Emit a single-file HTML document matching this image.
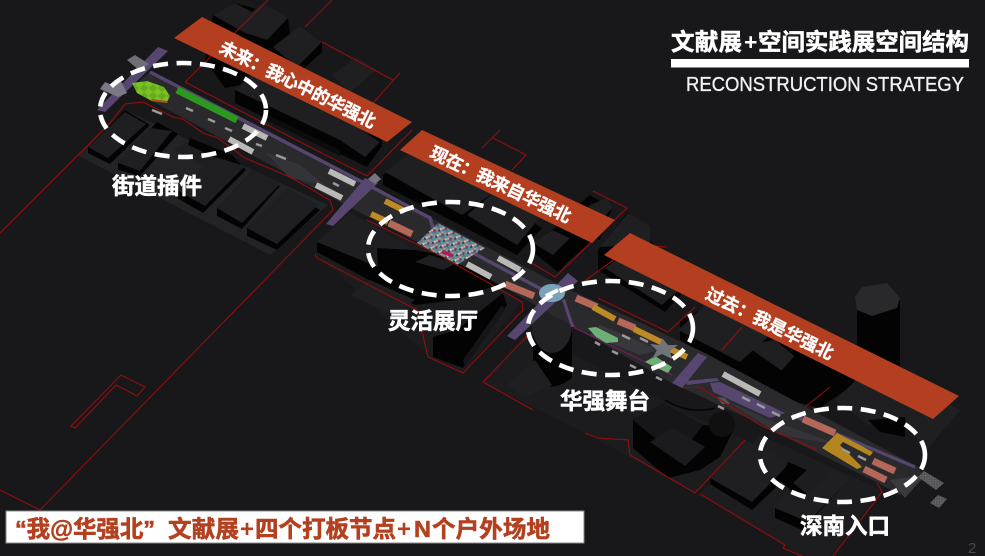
<!DOCTYPE html>
<html lang="zh">
<head>
<meta charset="utf-8">
<style>
html,body{margin:0;padding:0;background:#18181a;width:985px;height:556px;overflow:hidden}
svg{display:block}
.cjk{font-family:"Liberation Sans","Noto Sans CJK SC",sans-serif;font-weight:700}
.t{fill:#1f1f21}
.s{fill:#030303}
.k{fill:#0c0c0d}
.g{fill:#2a2a2d}
.r{fill:none;stroke:#940d0d;stroke-width:1.1}
.v{fill:#57466f}
.o{stroke:#bd8a24;stroke-width:6;fill:none}
.m{stroke:#b5685a;stroke-width:7;fill:none}
.w{stroke:#b9b9b7;stroke-width:6;fill:none}
.x{stroke:#9a9a9a;stroke-width:2.5;fill:none}
.n{fill:#6db075}
.d{fill:none;stroke:#fff;stroke-width:4.6;stroke-dasharray:15 8.5}
.l{fill:#fff;stroke:#fff;stroke-width:.6;font-size:22.5px;text-anchor:middle}
.b{fill:#fff;stroke:#fff;stroke-width:.35;font-size:17.5px;text-anchor:middle}
.h{fill:#fff;stroke:#fff;stroke-width:.5;font-size:23.5px}
.f{fill:#b3401f;stroke:#b3401f;stroke-width:.6;font-size:23.5px}
</style>
</head>
<body>
<svg width="985" height="556" viewBox="0 0 985 556" xmlns="http://www.w3.org/2000/svg">
<defs>
<pattern id="mix" width="9" height="7" patternUnits="userSpaceOnUse" patternTransform="rotate(27)">
<rect width="9" height="7" fill="#7d7f88"/>
<rect x="0" y="0" width="2" height="2" fill="#3f9aa8"/>
<rect x="2.500" y="1" width="2" height="2" fill="#c9a6a0"/>
<rect x="5" y="0" width="2" height="3" fill="#7a3a58"/>
<rect x="7" y="2" width="2" height="2" fill="#2f8fa0"/>
<rect x="1" y="3" width="2" height="2" fill="#c8c6c2"/>
<rect x="3.500" y="3" width="2" height="2" fill="#3d7f8e"/>
<rect x="0" y="5" width="2" height="2" fill="#54303a"/>
<rect x="4" y="5" width="2" height="2" fill="#b0a098"/>
<rect x="7" y="5" width="2" height="2" fill="#4eb1b5"/>
</pattern>
<pattern id="hatch" width="2.5" height="2.5" patternUnits="userSpaceOnUse">
<rect width="2.5" height="2.5" fill="#555"/>
<rect width="1.2" height="1.2" fill="#6a6a6a"/>
</pattern>
<pattern id="hex" width="9" height="8" patternUnits="userSpaceOnUse">
<rect width="9" height="8" fill="#66ad1d"/>
<path d="M0 4 L4.500 0 L9 4 L4.500 8Z" fill="#7cc226"/>
</pattern>
</defs>
<rect width="985" height="556" fill="#18181a"/>

<!-- plates -->
<polygon points="77,155 125,110 328,205 270,255" fill="#232325"/>
<polygon points="316,254 367,218 522,302 463,372 428,356" fill="#1c1c1e"/>
<polygon points="483,382 530,333 700,420 745,440 695,493 585,433" fill="#1c1c1e"/>
<polygon points="700,494 760,435 882,490 830,556 802,556" fill="#1d1d1f"/>

<!-- upper-left buildings -->
<polygon class="s" points="205,60 213,15 235,3 288,18 290,35 240,85 225,88"/>
<polygon class="t" points="213,15 235,3 252,12 263,3 288,18 267,40 245,33"/>
<polygon class="s" points="273,47 300,26 322,42 322,52 297,75 273,60"/>
<polygon class="t" points="273,47 300,26 322,42 297,67"/>
<polygon class="t" points="332,75 357,57 377,70 350,92"/>
<polygon class="s" points="235,90 235,103 367,167 382,146 382,130 345,140 240,88"/>
<polygon class="t" points="235,90 268,62 385,122 340,140"/>
<polygon class="k" points="262,112 340,150 340,156 262,118"/>
<polygon class="s" points="340,140 340,150 365,165 382,146 380,142"/>
<polygon class="t" points="340,140 357,128 380,142 365,157"/>

<!-- lower-left buildings -->
<polygon class="s" points="88,147 88,153 110,164 150,125 125,110"/>
<polygon class="t" points="88,147 125,112 146,124 108,158"/>
<polygon class="s" points="118,163 118,170 140,176 178,134 157,122"/>
<polygon class="t" points="118,163 150,128 172,131 140,171"/>
<polygon class="t" points="190,140 205,150 225,162 212,172 175,150"/>
<polygon class="s" points="177,190 177,198 203,213 246,170 232,155 190,138 188,145 225,162"/>
<polygon class="t" points="177,190 215,157 245,166 205,206"/>
<polygon class="s" points="217,208 217,216 242,229 280,186 253,170"/>
<polygon class="t" points="217,208 253,170 280,184 242,223"/>
<polygon class="s" points="247,228 247,236 277,250 320,210 287,190"/>
<polygon class="t" points="247,228 287,188 318,205 277,244"/>

<!-- central lower buildings -->
<polygon class="s" points="317,242 317,252 415,305 457,300 510,280 457,258 415,250 377,248"/>
<polygon class="t" points="317,242 350,212 415,250 377,248 380,268"/>
<polygon class="s" points="377,248 415,262 415,289 378,272"/>
<polygon class="t" points="415,262 430,255 457,263 443,270"/>
<polygon class="s" points="415,262 443,270 457,263 457,295 415,289"/>
<polygon class="t" points="350,295 370,280 415,300 395,315"/>
<polygon class="s" points="433,337 433,357 463,368 507,305 503,293 457,330"/>
<polygon fill="#151517" points="463,360 502,305 505,310 465,367"/>

<!-- central upper buildings -->
<polygon class="s" points="383,175 383,185 462,226 517,255 542,228 420,145"/>
<polygon class="t" points="385,172 420,145 500,188 462,215"/>
<polygon class="t" points="467,215 497,190 542,215 517,245"/>
<polygon class="s" points="533,243 533,252 558,272 568,262 592,240 563,222"/>
<polygon class="t" points="533,243 552,230 570,238 553,255"/>
<polygon class="s" points="560,220 590,195 612,208 600,240 578,235"/>
<polygon class="t" points="590,205 607,198 612,208 600,222 583,215"/>
<polygon class="s" points="598,250 598,270 665,312 690,285 650,240 628,212"/>
<polygon class="t" points="600,247 628,213 650,226 650,245"/>
<polygon class="t" points="605,268 630,252 688,282 662,305"/>

<!-- right side buildings -->
<polygon class="s" points="680,320 680,340 770,395 820,408 860,380 800,350 720,300"/>
<polygon class="t" points="678,330 705,305 770,335 740,362"/>
<polygon class="t" points="745,345 775,340 805,365 785,373"/>
<polygon class="s" points="782,370 782,385 825,393 840,370 800,350"/>
<polygon class="s" points="857,305 857,372 900,390 900,300"/>
<polygon fill="#29292b" points="855,297 862,287 887,283 900,298 897,308 872,316 857,310"/>
<polygon class="t" points="835,400 875,362 960,410 925,452 905,420 868,425"/>
<polygon class="s" points="868,420 905,417 905,437 880,432"/>

<!-- lower right buildings -->
<polygon class="s" points="633,420 633,448 668,478 700,470 720,457 735,427 703,425 663,403"/>
<polygon fill="#161618" points="633,420 663,403 703,425 690,442 655,438"/>
<polygon fill="#1b1b1d" points="650,442 672,428 705,447 685,466"/>
<circle cx="722" cy="424" r="13" fill="#101011"/>
<path d="M665 400 Q690 415 715 408" fill="none" stroke="#040404" stroke-width="1.500"/>
<polygon class="t" points="710,478 745,440 790,462 752,505"/>
<polygon class="s" points="710,478 710,484 752,510 790,474 785,468 752,502"/>
<polygon class="t" points="775,508 795,488 808,495 830,470 850,478 808,522"/>
<polygon class="s" points="775,508 775,518 802,530 845,484 808,522"/>
<polygon class="s" points="788,462 807,470 793,483 806,493 800,498 780,480"/>

<!-- cylinder -->
<path d="M533 325 V378 Q550 395 572 378 V325Z" fill="#030303"/>
<ellipse cx="552" cy="325" rx="20" ry="28" fill="#222224"/>
<polygon class="t" points="507,385 535,360 552,385 525,397"/>

<!-- road -->
<polygon class="g" points="135,85 150,72 372,187 560,285 705,353 918,467 925,478 900,495 878,483 758,423 672,383 500,285 330,197 150,100"/>
<polygon fill="#343438" points="265,152 300,165 325,185 290,178"/>
<polygon fill="#343438" points="725,400 770,420 840,445 780,435"/>
<polygon fill="#38383c" points="600,325 660,350 640,355 590,335"/>
<polygon fill="#3a3a3e" points="890,480 925,475 905,498"/>

<!-- purple rails -->
<polyline points="150,72 372,187 430,218 433,228 477,255 543,290" fill="none" stroke="#56456d" stroke-width="3.500"/>
<polyline points="792,415 915,467" fill="none" stroke="#56456d" stroke-width="3.200"/>
<polyline points="565,305 575,328 672,375" fill="none" stroke="#6a1f52" stroke-width="1.300"/>
<polygon class="v" points="158,47 168,51 105,112 97,110"/>
<polygon class="v" points="365,178 378,183 333,226 326,224"/>
<polygon class="v" points="568,273 578,281 515,340 507,336"/>
<polygon class="v" points="562,300 565,299 574,327 571,327"/>
<polygon class="v" points="698,353 707,357 682,388 672,383"/>
<polygon class="v" points="685,381 717,378 719,381 687,385"/>
<polygon class="v" points="710,383 720,382 785,413 770,418 713,392"/>
<polygon fill="#56565a" points="717,397 725,398 730,404 722,404"/>
<polygon fill="#6e6e74" points="127,60 135,55 149,64 140,71"/>
<polygon fill="#7d7883" points="112,85 120,79 127,93 118,97 100,89 105,82"/>
<polygon fill="#77737f" points="368,179 375,173 381,179 375,184"/>

<!-- green -->
<polygon fill="url(#hex)" points="132,83 147,81 164,87 170,96 167,102 150,100 137,93"/>
<polygon fill="#a85518" points="152,99 168,101 167,103 150,101"/>
<line x1="177" y1="90" x2="237" y2="120" stroke="#2d981f" stroke-width="7"/>
<polygon class="n" points="588,328 596,327 618,338 618,342 606,343 596,337"/>
<polygon class="n" points="645,362 655,356 672,367 668,373"/>

<!-- orange / salmon bars -->
<line class="o" x1="385" y1="201" x2="405" y2="211"/>
<line class="o" x1="371" y1="214" x2="388" y2="222"/>
<line class="m" x1="389" y1="223" x2="412" y2="234"/>
<line class="m" x1="505" y1="284" x2="534" y2="296"/>
<line class="m" x1="576" y1="298" x2="597" y2="307"/>
<line class="o" x1="593" y1="307" x2="615" y2="319"/>
<line class="m" x1="618" y1="321" x2="635" y2="328"/>
<line class="o" x1="634" y1="329" x2="663" y2="343"/>
<line class="o" x1="670" y1="349" x2="687" y2="357"/>
<path d="M822 448 L837 433 L873 452 L870 456 L843 442 L840 445 L862 467 L857 469Z" fill="#b5851f"/>
<line class="m" x1="803" y1="419" x2="835" y2="433"/>
<line class="m" x1="873" y1="461" x2="895" y2="471"/>
<line class="m" x1="864" y1="469" x2="886" y2="480"/>

<!-- light bars -->
<line class="w" x1="329" y1="171" x2="355" y2="184"/>
<line class="w" x1="316" y1="185" x2="342" y2="198"/>
<line class="w" x1="243" y1="126" x2="267" y2="138"/>
<line class="w" x1="229" y1="139" x2="253" y2="152"/>
<line class="w" x1="467" y1="264" x2="491" y2="277"/>
<line class="w" x1="498" y1="258" x2="520" y2="270"/>
<line class="w" x1="723" y1="374" x2="760" y2="394"/>
<line class="x" x1="152" y1="110" x2="162" y2="114"/>
<line class="x" x1="186" y1="108" x2="193" y2="111"/>
<line class="x" x1="208" y1="119" x2="215" y2="122"/>
<line class="x" x1="225" y1="128" x2="232" y2="131"/>
<line class="x" x1="256" y1="144" x2="262" y2="146"/>
<line class="x" x1="276" y1="155" x2="286" y2="159"/>
<line class="x" x1="333" y1="183" x2="339" y2="186"/>
<line class="x" x1="595" y1="342" x2="600" y2="345"/>
<line class="x" x1="612" y1="351" x2="618" y2="354"/>
<line class="x" x1="630" y1="365" x2="636" y2="368"/>
<line class="x" x1="656" y1="377" x2="662" y2="380"/>
<line class="x" x1="718" y1="406" x2="724" y2="409"/>
<line class="x" x1="742" y1="397" x2="750" y2="401"/>
<line class="x" x1="757" y1="404" x2="765" y2="408"/>
<line class="x" x1="772" y1="412" x2="780" y2="416"/>
<line class="x" x1="640" y1="338" x2="648" y2="342"/>
<line class="x" x1="622" y1="335" x2="630" y2="339"/>
<line class="x" x1="842" y1="449" x2="850" y2="453"/>
<line class="x" x1="858" y1="456" x2="866" y2="460"/>
<polygon fill="url(#hatch)" points="924,471 944,483 936,490 918,477"/>
<polygon fill="url(#hatch)" points="938,495 947,499 939,508 930,503"/>
<polygon fill="#70757a" points="662,338 668,345 678,345 670,351 672,359 662,354 652,359 657,350 650,344 660,345"/>

<!-- colorful patch -->
<polygon fill="url(#mix)" points="438,223 485,248 457,265 417,243"/>
<polygon fill="#b8184e" points="443,250 453,254 451,257 441,253"/>

<!-- red outlines -->
<polyline class="r" points="0,233 110,123 125,104 143,102 173,117 183,119 203,133 218,138 245,158 290,177 330,200 333,210 40,510 0,490"/>
<polygon class="r" points="121,375 145,387 137,396 116,385 75,428 71,426"/>
<polyline class="r" points="300,142 367,176 412,130"/>
<polyline class="r" points="185,82 268,0"/>
<polyline class="r" points="185,82 300,142"/>
<polyline class="r" points="305,27 332,0"/>
<polyline class="r" points="322,42 393,80"/>
<polyline class="r" points="400,73 373,103"/>
<polyline class="r" points="482,148 500,130"/>
<polyline class="r" points="493,138 526,155 512,170"/>
<polyline class="r" points="593,191 627,208 555,277 530,262"/>
<polyline class="r" points="637,245 667,247"/>
<polyline class="r" points="367,220 443,257 522,302 523,310 463,373 428,357 417,310 317,258 315,254"/>
<polyline class="r" points="582,283 627,250"/>
<polyline class="r" points="530,333 483,382 533,410"/>
<polyline class="r" points="585,433 598,438 628,440 630,455 695,493 745,440"/>
<polyline class="r" points="700,494 785,545 783,548 802,556"/>
<polyline class="r" points="877,483 882,492 833,556"/>
<polyline class="r" points="682,388 700,387 760,425 817,450"/>
<polyline class="r" points="598,298 668,332 695,307"/>
<polyline class="r" points="742,327 722,350"/>
<polyline class="r" points="805,407 830,387"/>

<!-- banners -->
<polygon fill="#b43f20" points="174,38 202,17 412,122 387,142"/>
<polygon fill="#b43f20" points="400,150 422,130 615,220 592,243"/>
<polygon fill="#b43f20" points="604,255 630,233 959,396 933,419"/>
<text class="cjk b" transform="translate(295,90) rotate(26.500)" textLength="172" lengthAdjust="spacing">未来：我心中的华强北</text>
<text class="cjk b" transform="translate(498,190) rotate(25.500)" textLength="154" lengthAdjust="spacing">现在：我来自华强北</text>
<text class="cjk b" transform="translate(767,329) rotate(26.300)" textLength="140" lengthAdjust="spacing">过去：我是华强北</text>

<!-- blue node -->
<ellipse cx="552" cy="293" rx="13" ry="9" fill="#7ba3b8"/>

<!-- dashed ellipses -->
<ellipse class="d" cx="183" cy="110" rx="83" ry="47"/>
<ellipse class="d" cx="450.500" cy="249" rx="82.500" ry="47"/>
<ellipse class="d" cx="610.500" cy="328" rx="82.500" ry="47"/>
<ellipse class="d" cx="842.500" cy="455" rx="82.500" ry="47"/>

<!-- labels -->
<text class="cjk l" x="157" y="194">街道插件</text>
<text class="cjk l" x="433" y="329">灵活展厅</text>
<text class="cjk l" x="605" y="409">华强舞台</text>
<text class="cjk l" x="845" y="534">深南入口</text>

<!-- title -->
<text class="cjk h" x="671" y="50" textLength="71" lengthAdjust="spacing">文献展</text>
<text x="744" y="50" fill="#fff" font-family="Liberation Sans, sans-serif" font-weight="700" font-size="23">+</text>
<text class="cjk h" x="758" y="50" textLength="211" lengthAdjust="spacing">空间实践展空间结构</text>
<rect x="671" y="59" width="298" height="8.500" fill="#fff"/>
<text x="686" y="91" fill="#f2f2f2" stroke="#f2f2f2" stroke-width=".3" font-family="Liberation Sans, sans-serif" font-size="20" textLength="278" lengthAdjust="spacingAndGlyphs">RECONSTRUCTION STRATEGY</text>

<!-- bottom strip -->
<rect x="6" y="511" width="578" height="32" fill="#fff" stroke="#8a8a8a" stroke-width="1"/>
<text class="cjk f" x="15" y="537" textLength="140" lengthAdjust="spacing">“我@华强北”</text>
<text class="cjk f" x="168" y="537" textLength="71" lengthAdjust="spacing">文献展</text>
<text class="cjk" x="240" y="537" fill="#b3401f" font-size="24">+</text>
<text class="cjk f" x="255" y="537" textLength="141" lengthAdjust="spacing">四个打板节点</text>
<text class="cjk" x="397" y="537" fill="#b3401f" font-size="24">+</text>
<text class="cjk f" x="414" y="537" font-size="23.500">N</text>
<text class="cjk f" x="432" y="537" textLength="118" lengthAdjust="spacing">个户外场地</text>
<text x="968" y="553" fill="#4a4a4a" font-family="Liberation Sans, sans-serif" font-size="15">2</text>

<!-- dash on the blue node -->
<line x1="546" y1="296" x2="558" y2="290" stroke="#fff" stroke-width="4"/>
</svg>
</body>
</html>
